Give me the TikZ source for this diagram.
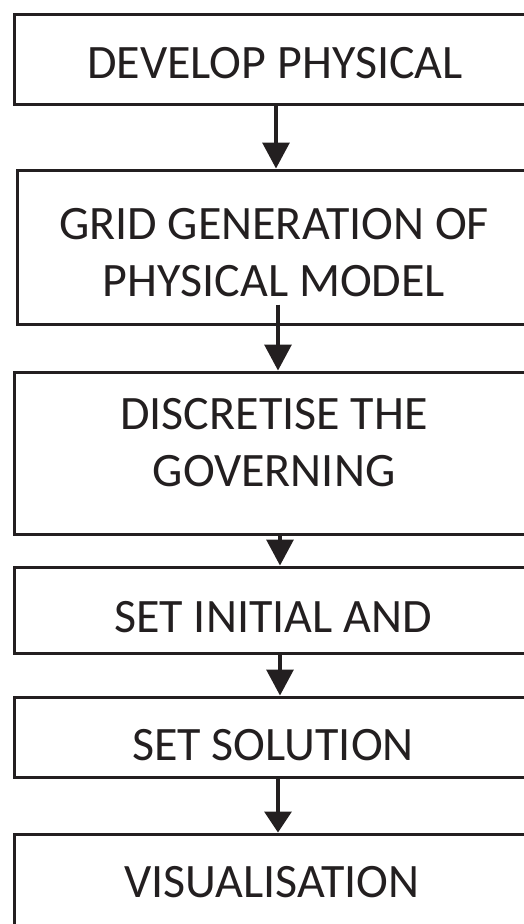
\documentclass[tikz,border=0pt]{standalone}
\usepackage{fontspec}
\setmainfont{Carlito}
\usetikzlibrary{arrows.meta}
\definecolor{ink}{HTML}{231F20}
\tikzset{
  stepbox/.style={draw=ink, line width=3pt, rectangle, inner sep=0pt, minimum width=524pt},
  label/.style={inner sep=0pt, align=center, text=ink, font=\fontsize{48}{57}\selectfont},
  flow/.style={draw=ink, line width=3.2pt, -{Triangle[width=27pt,length=26pt]}},
}
\begin{document}
\begin{tikzpicture}[x=1pt,y=1pt]
\clip (0,0) rectangle (524,-924);
\useasboundingbox (0,0) rectangle (524,-924);
% boxes
\node[stepbox, minimum height=90pt]  (b1) at (276,-59) {};
\node[stepbox, minimum width=521pt, minimum height=154pt] (b2) at (277.5,-247) {};
\node[stepbox, minimum height=162pt] (b3) at (276,-453) {};
\node[stepbox, minimum height=86pt]  (b4) at (276,-610) {};
\node[stepbox, minimum height=80pt]  (b5) at (276,-737) {};
\node[stepbox, minimum height=116pt] (b6) at (276,-892) {};
% texts
\node[label] (t1) at (275,-63) {DEVELOP PHYSICAL};
\node[label] (t2) at (274,-253) {GRID GENERATION OF\\PHYSICAL MODEL};
\node[label] (t3) at (274,-443) {DISCRETISE THE\\GOVERNING};
\node[label] (t4) at (273,-617) {SET INITIAL AND};
\node[label] (t5) at (273,-745) {SET SOLUTION};
\node[label] (t6) at (272,-882) {VISUALISATION};
% connectors
\draw[flow] (b1.south) -- (b2.north -| b1.south);
\draw[flow] ([xshift=0.5pt,yshift=21pt]b2.south) -- ([xshift=2pt]b3.north);
\draw[flow] ([xshift=4pt]b3.south) -- ([xshift=4pt]b4.north);
\draw[flow] ([xshift=4pt]b4.south) -- ([xshift=4pt]b5.north);
\draw[flow, -{Triangle[width=27pt,length=21pt]}] ([xshift=2pt]b5.south) -- ([xshift=2pt]b6.north);
\end{tikzpicture}
\end{document}
